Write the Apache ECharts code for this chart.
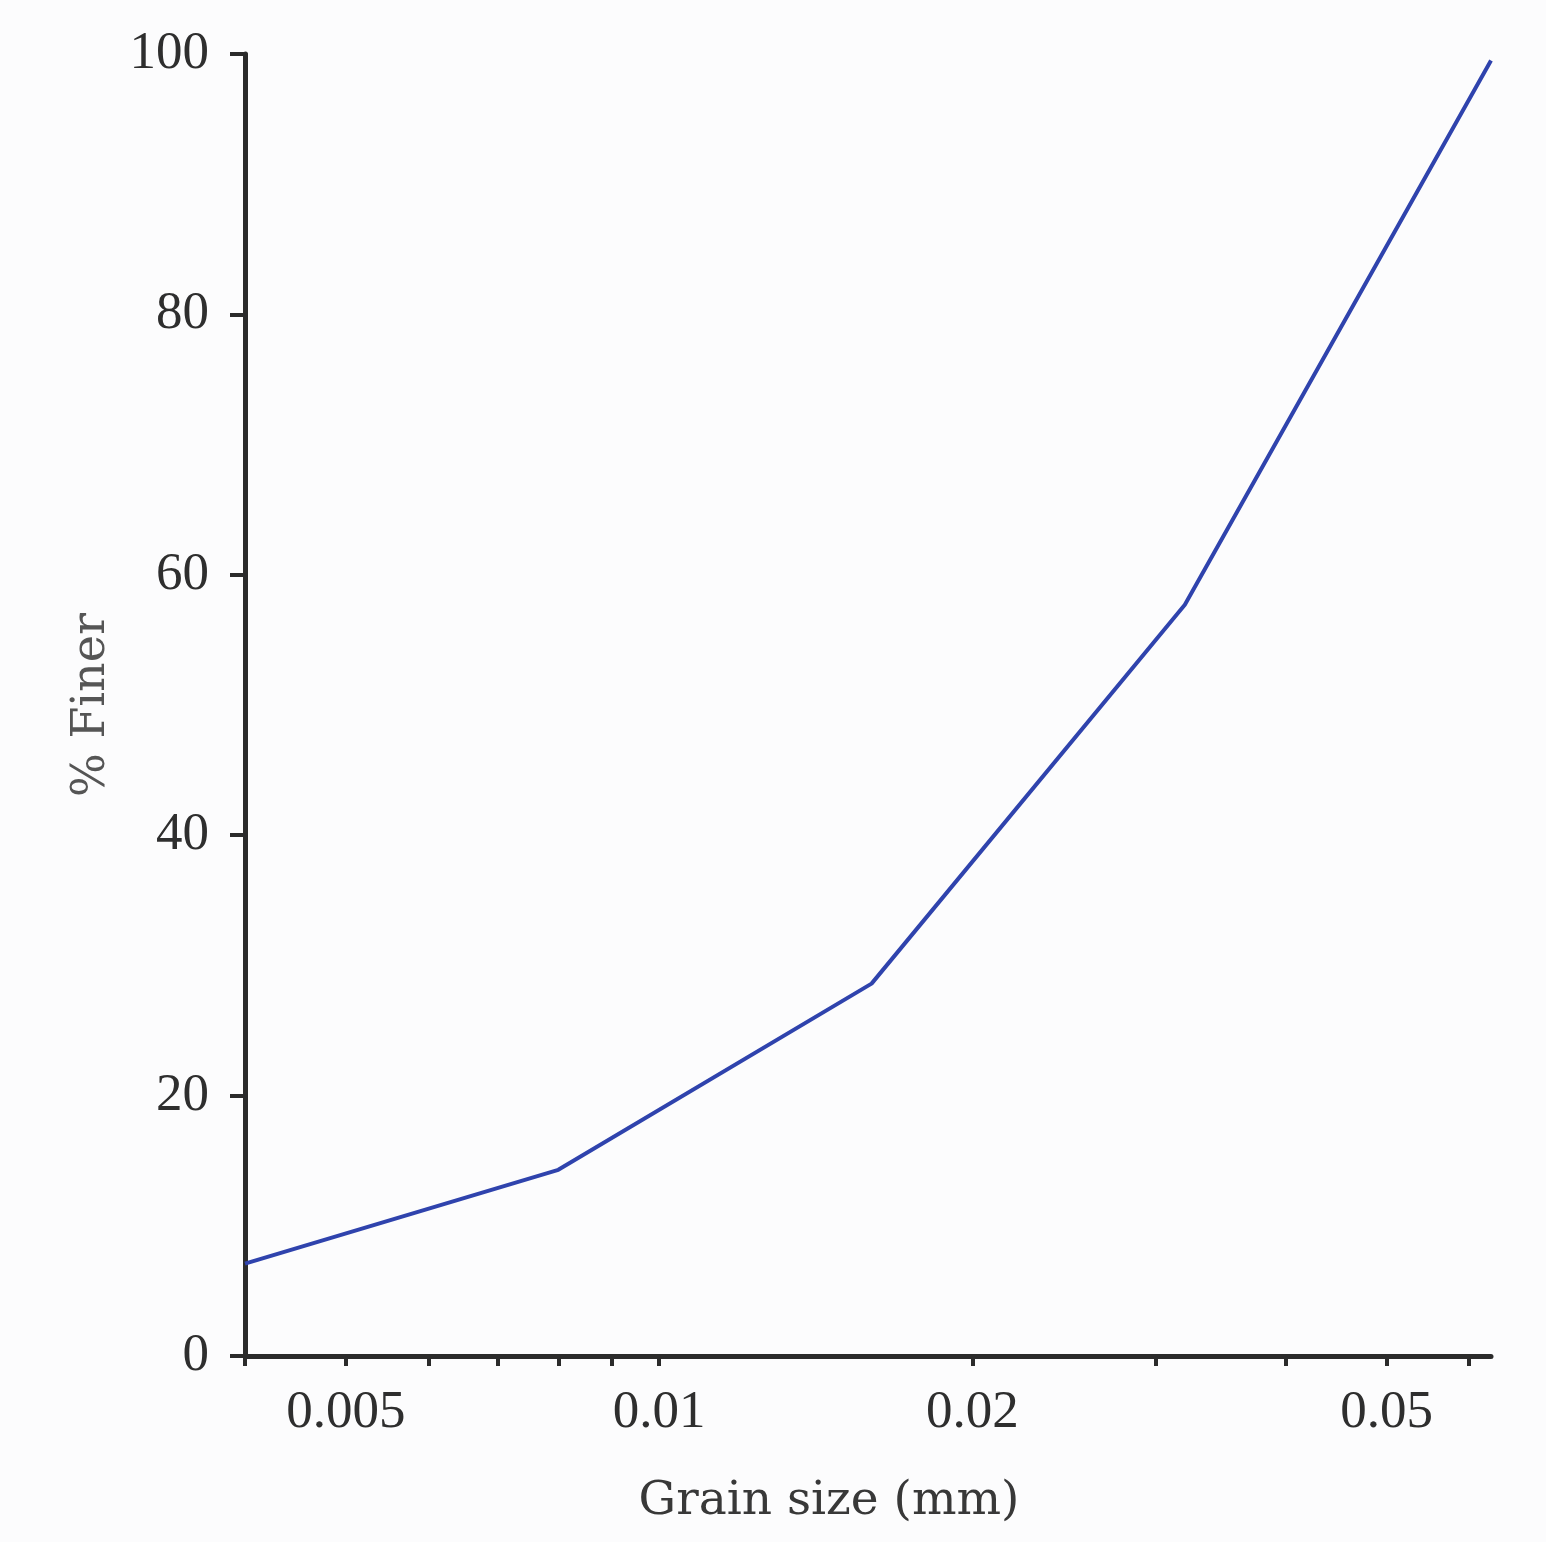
<!DOCTYPE html>
<html style="height: 100%">
<head>
    <meta charset="utf-8">
    <script type="text/javascript" src="https://cdn.jsdelivr.net/npm/echarts@6/dist/echarts.min.js"></script>
    <title>Grain size distribution</title>
</head>
<body style="height: 100%; margin: 0; background: #fcfcfd">
<div id="container" style="width: 1546px; height: 1542px"></div>
</body>
<script type="text/javascript">
    // grain size (mm) and cumulative % finer
    let grainSize = [0.004, 0.008, 0.016, 0.032, 0.063];
    let percentFiner = [7.1, 14.3, 28.6, 57.7, 99.5];

    // log axis ticks (mm)
    let tickValues = [0.004, 0.005, 0.006, 0.007, 0.008, 0.009, 0.01, 0.02, 0.03, 0.04, 0.05, 0.06];
    let labelValues = [0.005, 0.01, 0.02, 0.05];
    let labelTexts = ['0.005', '0.01', '0.02', '0.05'];
    let xMin = 0.004, xMax = 0.063;

    let dom = document.getElementById('container');
    let myChart = echarts.init(dom);
    let option;

    let lg = v => Math.log10(v);
    let data = grainSize.map((g, i) => [lg(g), percentFiner[i]]);

    let axisColor = '#2b2b2b';
    let textColor = '#2e2e2e';

    option = {
        backgroundColor: '#fcfcfd',
        animation: false,
        grid: {
            left: 245,
            right: 55,
            top: 54,
            bottom: 186
        },
        xAxis: {
            type: 'value',
            min: lg(xMin),
            max: lg(xMax),
            name: 'Grain size (mm)',
            nameLocation: 'middle',
            nameGap: 122,
            nameTextStyle: {
                fontFamily: 'DejaVu Serif',
                fontSize: 47,
                color: '#383838',
                padding: [0, 78, 0, 0]
            },
            axisLine: {
                lineStyle: { color: axisColor, width: 5 }
            },
            axisTick: {
                show: true,
                length: 10,
                customValues: tickValues.map(lg),
                lineStyle: { color: axisColor, width: 4 }
            },
            axisLabel: {
                customValues: labelValues.map(lg),
                margin: 31,
                fontFamily: 'Liberation Serif',
                fontSize: 53,
                color: textColor,
                formatter: function (v) {
                    let best = 0;
                    labelValues.forEach((lv, i) => {
                        if (Math.abs(lg(lv) - v) < Math.abs(lg(labelValues[best]) - v)) best = i;
                    });
                    return labelTexts[best];
                }
            },
            splitLine: { show: false }
        },
        yAxis: {
            type: 'value',
            min: 0,
            max: 100,
            interval: 20,
            name: '% Finer',
            nameLocation: 'middle',
            nameGap: 130,
            nameTextStyle: {
                fontFamily: 'DejaVu Serif',
                fontSize: 46,
                color: '#555555'
            },
            axisLine: {
                show: true,
                lineStyle: { color: axisColor, width: 5 }
            },
            axisTick: {
                show: true,
                length: 15,
                lineStyle: { color: axisColor, width: 4 }
            },
            axisLabel: {
                margin: 36,
                fontFamily: 'Liberation Serif',
                fontSize: 53,
                color: textColor
            },
            splitLine: { show: false }
        },
        series: [{
            type: 'line',
            data: data,
            symbol: 'none',
            lineStyle: {
                color: '#2f43ad',
                width: 4
            }
        }]
    };

    if (option && typeof option === 'object') {
        myChart.setOption(option);
    }
</script>
</html>
